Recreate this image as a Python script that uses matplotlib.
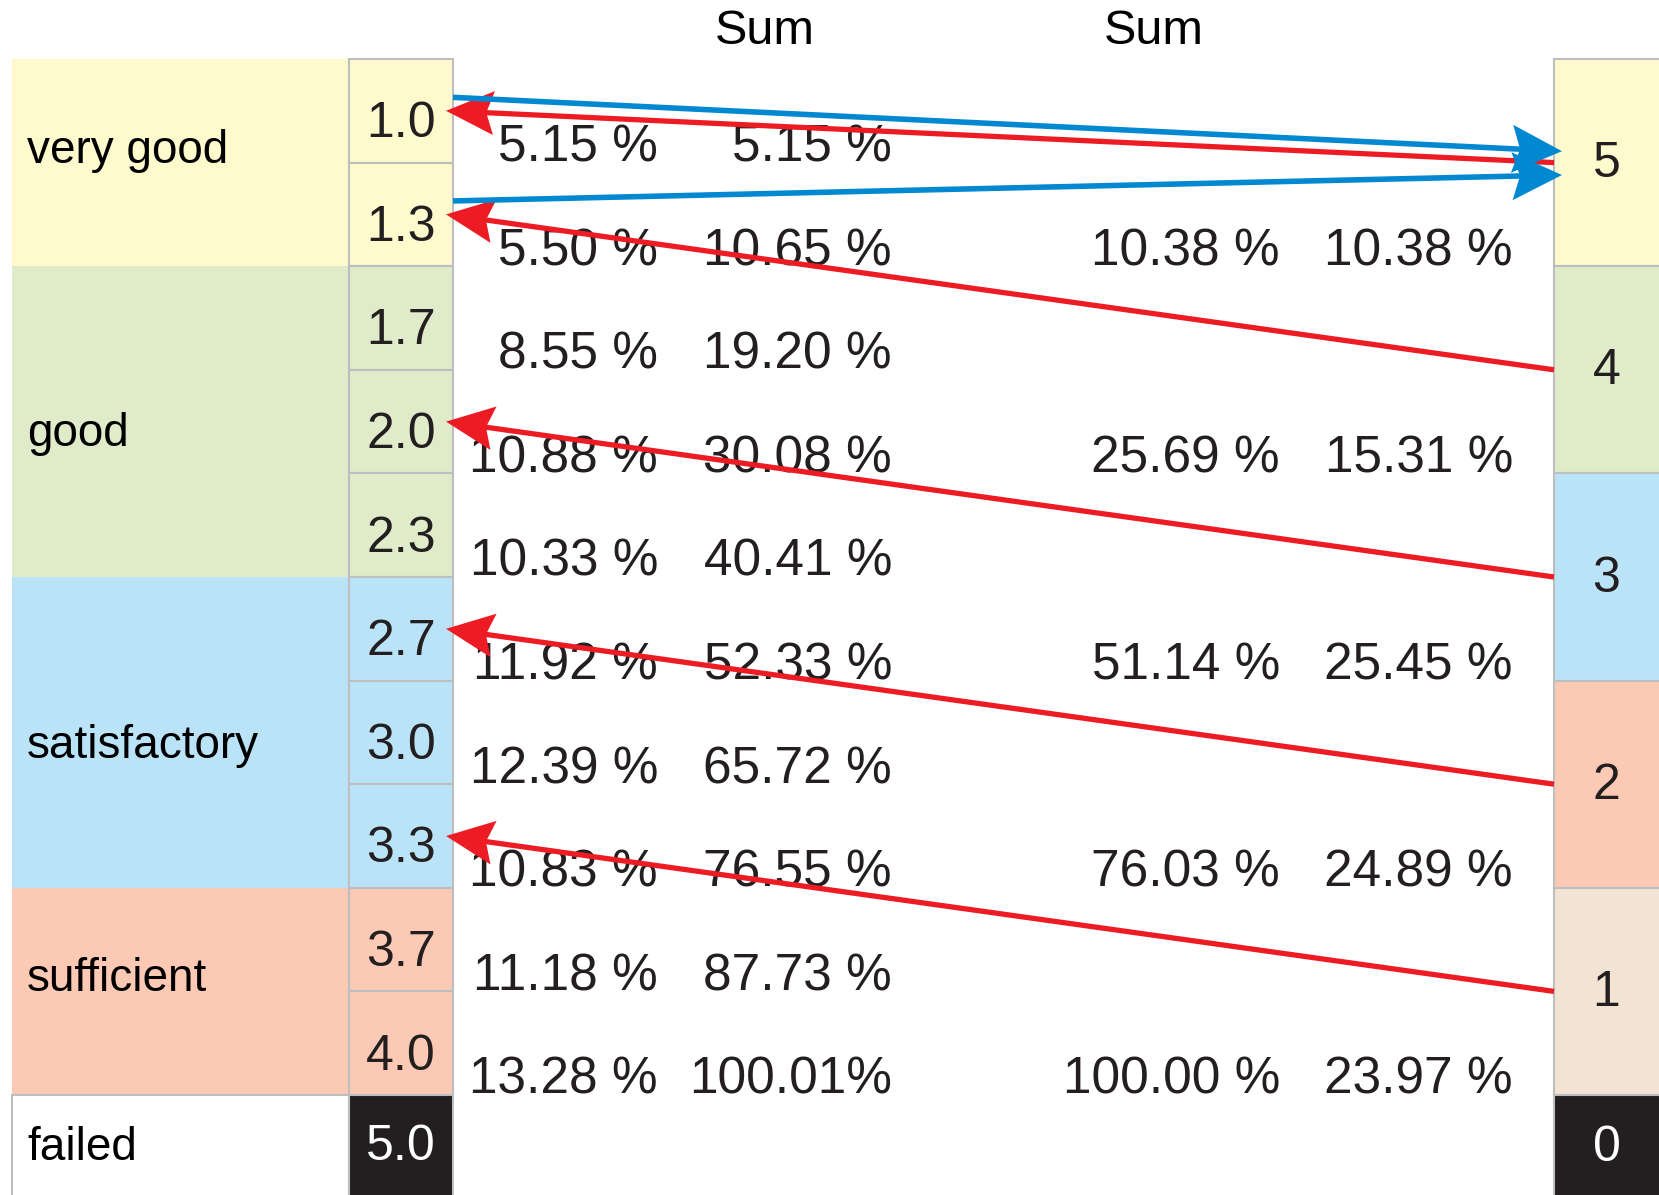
#!/usr/bin/env python3

"""
grade conversion table: university grades -> points, with shares and sums
"""

import numpy as np
import matplotlib
matplotlib.use("Agg")
import matplotlib.pyplot as plt
from matplotlib.patches import Rectangle, Polygon

# data
grades = ["1.0", "1.3", "1.7", "2.0", "2.3", "2.7", "3.0", "3.3", "3.7", "4.0", "5.0"]
grade_share = [5.15, 5.50, 8.55, 10.88, 10.33, 11.92, 12.39, 10.83, 11.18, 13.28]
grade_sum = [5.15, 10.65, 19.20, 30.08, 40.41, 52.33, 65.72, 76.55, 87.73, 100.01]

categories = ["very good", "good", "satisfactory", "sufficient", "failed"]
category_rows = [2, 3, 3, 2, 1]

points = ["5", "4", "3", "2", "1", "0"]
point_sum = [10.38, 25.69, 51.14, 76.03, 100.00]
point_share = [10.38, 15.31, 25.45, 24.89, 23.97]

# arrows: points -> grade (red), grade -> points (blue)
red_from_points = ["5", "4", "3", "2", "1"]
red_to_grades = ["1.0", "1.3", "2.0", "2.7", "3.3"]
blue_from_grades = ["1.0", "1.3"]
blue_to_points = ["5", "5"]

# style
cat_colors = ["#FFF9CE", "#DFEBC9", "#BAE3F8", "#FBC9B4", "#FFFFFF"]
point_colors = ["#FFF9CE", "#DFEBC9", "#BAE3F8", "#FBC9B4", "#F3E3D3", "#231F20"]
black = "#231F20"
edge = "#BDBEC0"
red = "#ED1C24"
blue = "#0088D1"

plt.rcParams["font.family"] = ["Liberation Sans", "DejaVu Sans"]

W, H = 1659, 1195
top, rh = 59, 103.6  # header height and row height in pixels

fig = plt.figure(figsize=(W / 100, H / 100), dpi=100)
ax = fig.add_axes([0, 0, 1, 1])
ax.set_xlim(0, W)
ax.set_ylim((H - top) / rh, -top / rh)
ax.axis("off")

# column positions (pixels)
cat_x0, grade_x0, grade_x1 = 12, 349, 453
pt_x0 = 1554
col_right = [658, 892, 1280, 1513]

# left category blocks
r = 0
for name, n, c in zip(categories, category_rows, cat_colors):
    is_failed = name == "failed"
    ax.add_patch(Rectangle((cat_x0, r), grade_x0 - cat_x0, n, facecolor=c,
                           edgecolor=edge if is_failed else "none", lw=1.5, zorder=1))
    r += n

label_baseline = [1.0, 3.74, 6.75, 9.0, 10.63]
for name, yb in zip(categories, label_baseline):
    ax.text(cat_x0 + 15, yb, name, fontsize=33, va="baseline", ha="left", color="black", zorder=3)

# grade column
grade_colors = []
for n, c in zip(category_rows, cat_colors):
    grade_colors += [c] * n
grade_colors[-1] = black
for i, (g, c) in enumerate(zip(grades, grade_colors)):
    ax.add_patch(Rectangle((grade_x0, i), grade_x1 - grade_x0, 1, facecolor=c,
                           edgecolor=edge, lw=1.5, zorder=2))
    # the black "5.0" box is cut by the bottom edge, its label sits a bit higher
    yb = i + 0.63 if c == black else i + 0.755
    ax.text((grade_x0 + grade_x1) / 2, yb, g, fontsize=36, ha="center",
            va="baseline", color="white" if c == black else "#231F20", zorder=3)

# points column: each box spans two grade rows, "0" spans one
pt_rows = [2, 2, 2, 2, 2, 1]
pt_top = {}
r = 0
for p, n, c in zip(points, pt_rows, point_colors):
    pt_top[p] = (r, n)
    ax.add_patch(Rectangle((pt_x0, r), W - pt_x0 + 5, n, facecolor=c,
                           edgecolor=edge, lw=1.5, zorder=2))
    ax.text((pt_x0 + W) / 2, r + n / 2 + 0.14, p, fontsize=36, ha="center",
            va="baseline", color="white" if c == black else "#231F20", zorder=3)
    r += n

# headers
for xc in [765, 1154]:
    ax.text(xc, -0.14, "Sum", fontsize=35, ha="center", va="baseline", color="black")

txt = dict(fontsize=37, ha="right", va="baseline", color="#231F20", zorder=3)
for i, (s, cs) in enumerate(zip(grade_share, grade_sum)):
    ax.text(col_right[0], i + 0.99, f"{s:.2f} %", **txt)
    # the last sum is printed without the space in the original
    sep = "" if cs > 100 else " "
    ax.text(col_right[1], i + 0.99, f"{cs:.2f}{sep}%", **txt)

for i, (cs, s) in enumerate(zip(point_sum, point_share)):
    ax.text(col_right[2], 2 * i + 1.99, f"{cs:.2f} %", **txt)
    ax.text(col_right[3], 2 * i + 1.99, f"{s:.2f} %", **txt)


def arrow(p0, p1, color, z, head_len=48, head_w=22, lw=3.8):
    # stealth-style head built in pixel space, then mapped back to data
    to_px = ax.transData.transform
    to_data = ax.transData.inverted().transform
    a, b = to_px(p0), to_px(p1)
    d = (b - a) / np.hypot(*(b - a))
    nrm = np.array([-d[1], d[0]])
    back = b - head_len * d
    notch = b - 0.84 * head_len * d
    head = [b, back + head_w * nrm, notch, back - head_w * nrm]
    line = to_data([a, notch + 2 * d])
    ax.plot(line[:, 0], line[:, 1], color=color, lw=lw, solid_capstyle="butt", zorder=z)
    ax.add_patch(Polygon(to_data(head), closed=True, facecolor=color,
                         edgecolor="none", zorder=z))


for p, g in zip(red_from_points, red_to_grades):
    r0, n = pt_top[p]
    gi = grades.index(g)
    arrow((pt_x0, r0 + n / 2), (446, gi + 0.5), red, 4)

blue_end_offsets = [-0.11, 0.12]
for g, p, off in zip(blue_from_grades, blue_to_points, blue_end_offsets):
    r0, n = pt_top[p]
    gi = grades.index(g)
    arrow((grade_x1, gi + 0.37), (1562, r0 + n / 2 + off), blue, 5, head_len=50, head_w=24, lw=4)

fig.savefig("out.png", dpi=100)
